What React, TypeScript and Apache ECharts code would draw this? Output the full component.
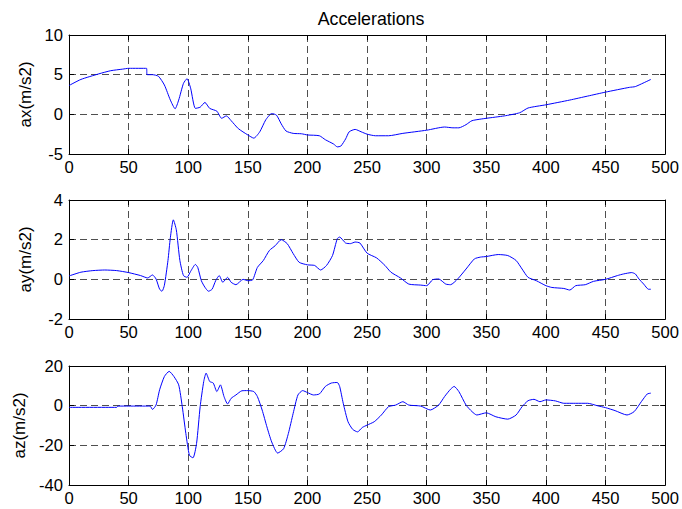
import React, { useEffect, useRef } from "react";
import * as echarts from "echarts";

const title = "Accelerations";
const xTicks = [0, 50, 100, 150, 200, 250, 300, 350, 400, 450, 500];

const axX = [0, 10, 25, 35, 45, 50, 65, 65.5, 70, 75, 80, 85, 89, 92, 96, 99, 102, 106, 110, 114, 118, 124, 128, 132, 136, 142, 150, 155, 160, 165, 170, 174, 178, 182, 188, 195, 200, 210, 215, 222, 225, 228, 232, 235, 240, 245, 250, 257, 268, 280, 300, 315, 322, 327, 333, 338, 350, 365, 378, 385, 400, 420, 435, 450, 470, 475, 488];
const axY = [3.63, 4.4, 5.1, 5.5, 5.7, 5.8, 5.8, 5.0, 5.0, 4.8, 3.7, 1.8, 0.7, 1.8, 3.9, 4.5, 3.3, 0.75, 0.9, 1.5, 0.75, 0.4, -0.5, -0.2, -0.8, -1.8, -2.6, -3.0, -2.2, -0.7, 0.1, -0.1, -1.2, -2.1, -2.4, -2.45, -2.6, -2.7, -3.2, -3.75, -4.1, -4.0, -3.1, -2.2, -1.9, -2.2, -2.5, -2.7, -2.7, -2.4, -2.0, -1.6, -1.7, -1.7, -1.3, -0.8, -0.5, -0.2, 0.2, 0.8, 1.2, 1.8, 2.3, 2.8, 3.4, 3.5, 4.4];

const ayX = [0, 10, 20, 30, 40, 50, 60, 66, 70, 73, 76, 78, 80, 83, 85, 87.5, 90, 93, 96, 99, 102, 106, 108, 111, 114, 117, 120, 123, 126, 129, 133, 136, 140, 146, 150, 154, 158, 163, 168, 173, 178, 183, 188, 193, 200, 206, 211, 216, 221, 225, 227, 232, 236, 240, 244, 250, 258, 265, 270, 278, 285, 295, 300, 305, 310, 316, 320, 326, 333, 340, 345, 350, 360, 368, 375, 380, 385, 392, 400, 405, 415, 420, 425, 433, 440, 450, 460, 465, 472, 475, 478, 482, 486, 488];
const ayY = [0.17, 0.36, 0.44, 0.47, 0.44, 0.34, 0.19, 0.07, 0.22, 0.02, -0.5, -0.6, -0.3, 0.95, 2.1, 3.0, 2.5, 0.95, 0.19, 0.1, 0.4, 0.75, 0.6, -0.07, -0.4, -0.6, -0.5, -0.07, 0.19, -0.15, 0.1, -0.15, -0.27, 0.0, -0.07, -0.03, 0.6, 0.95, 1.45, 1.7, 2.0, 1.8, 1.3, 0.86, 0.73, 0.7, 0.47, 0.7, 1.2, 2.05, 2.13, 1.83, 1.8, 1.88, 1.83, 1.32, 1.08, 0.7, 0.36, 0.07, -0.24, -0.29, -0.32, -0.02, 0.02, -0.24, -0.27, 0.02, 0.52, 1.03, 1.12, 1.15, 1.25, 1.2, 0.95, 0.52, 0.1, -0.07, -0.32, -0.41, -0.46, -0.54, -0.32, -0.27, -0.1, 0, 0.19, 0.27, 0.34, 0.27, 0.02, -0.24, -0.5, -0.5];

const azX = [0, 40, 41, 50, 68, 70, 73, 76, 80, 84, 88, 92, 95, 98, 101, 104, 107, 110, 113, 115, 118, 121, 124, 127, 130, 133, 136, 140, 145, 150, 155, 158, 162, 166, 170, 175, 180, 184, 188, 192, 196, 200, 205, 210, 215, 220, 225, 227, 230, 234, 238, 242, 246, 250, 256, 262, 268, 274, 280, 285, 295, 303, 310, 315, 320, 323, 327, 333, 338, 342, 350, 358, 368, 375, 380, 385, 390, 395, 400, 408, 415, 425, 435, 443, 450, 458, 468, 474, 480, 485, 488];
const azY = [-0.85, -0.85, -0.2, -0.2, -0.2, -1.9, 0.3, 8, 14.7, 17.3, 14.7, 10.5, -0.5, -14, -25, -26.3, -19, -0.5, 12.2, 16.4, 12.2, 11.4, 7.1, 10.5, 4.6, 0.85, 3.7, 5.4, 7.5, 7.6, 7.1, 4.6, -2.2, -10.7, -18.3, -23.9, -21.7, -14, -3.9, 5.4, 7.6, 6.6, 5.4, 5.9, 9.7, 11.4, 11.7, 9.7, 1.2, -8.1, -12, -13.2, -11, -9.8, -8.1, -4.7, -0.5, 0.3, 2, 0.3, -0.2, -2.2, 0.3, 4.6, 8.3, 9.7, 7.1, 0.3, -3, -4.7, -3.6, -5.6, -6.8, -4.7, -0.5, 2.5, 3.2, 2, 2.9, 2.4, 1.2, 1.2, 1.2, 0, -1, -2.5, -4.7, -3, 2, 5.9, 6.3];

const panels = [
  { name: "ax(m/s2)", xs: axX, ys: axY, min: -5, max: 10, interval: 5 },
  { name: "ay(m/s2)", xs: ayX, ys: ayY, min: -2, max: 4, interval: 2 },
  { name: "az(m/s2)", xs: azX, ys: azY, min: -40, max: 20, interval: 20 },
];

const FONT = "Liberation Sans, Arial, sans-serif";
const FS = 16.6;
const gridTops = [35, 200, 366];

export default function App() {
  const ref = useRef<HTMLDivElement>(null);
  useEffect(() => {
    if (!ref.current) return;
    const chart = echarts.init(ref.current, undefined, { renderer: "svg" });
    const dash = { type: [7, 4] as any, color: "#222", width: 0.8 };
    const grid: any[] = [];
    const xAxis: any[] = [];
    const yAxis: any[] = [];
    const series: any[] = [];
    panels.forEach((p, i) => {
      grid.push({ left: 69, right: 14, top: gridTops[i], height: 119, show: false });
      const xBase = {
        type: "value",
        gridIndex: i,
        min: 0,
        max: 500,
        interval: 50,
      };
      xAxis.push({
        ...xBase,
        position: "bottom",
        axisLine: { show: true, onZero: false, lineStyle: { color: "#000", width: 1 } },
        axisTick: { show: true, inside: true, length: 5, lineStyle: { color: "#000" } },
        axisLabel: { color: "#000", fontSize: FS, fontFamily: FONT, margin: 5 },
        splitLine: { show: true, lineStyle: dash },
      });
      xAxis.push({
        ...xBase,
        position: "top",
        axisLine: { show: true, onZero: false, lineStyle: { color: "#000", width: 1 } },
        axisTick: { show: true, inside: true, length: 5, lineStyle: { color: "#000" } },
        axisLabel: { show: false },
        splitLine: { show: false },
      });
      const yBase = {
        type: "value",
        gridIndex: i,
        min: p.min,
        max: p.max,
        interval: p.interval,
      };
      yAxis.push({
        ...yBase,
        position: "left",
        name: p.name,
        nameLocation: "middle",
        nameGap: 35,
        nameTextStyle: { color: "#000", fontSize: 17, fontFamily: FONT },
        axisLine: { show: true, onZero: false, lineStyle: { color: "#000", width: 1 } },
        axisTick: { show: true, inside: true, length: 5, lineStyle: { color: "#000" } },
        axisLabel: { color: "#000", fontSize: FS, fontFamily: FONT, margin: 6 },
        splitLine: { show: true, lineStyle: dash },
      });
      yAxis.push({
        ...yBase,
        position: "right",
        axisLine: { show: true, onZero: false, lineStyle: { color: "#000", width: 1 } },
        axisTick: { show: true, inside: true, length: 5, lineStyle: { color: "#000" } },
        axisLabel: { show: false },
        splitLine: { show: false },
      });
      series.push({
        type: "line",
        xAxisIndex: i * 2,
        yAxisIndex: i * 2,
        data: p.xs.map((x, k) => [x, p.ys[k]]),
        showSymbol: false,
        symbol: "none",
        lineStyle: { color: "#0000ff", width: 1 },
        smooth: 0.2,
      });
    });
    chart.setOption({
      animation: false,
      backgroundColor: "#fff",
      title: {
        text: title,
        left: 366,
        top: 5,
        textAlign: "center",
        textStyle: { color: "#000", fontSize: 17.8, fontWeight: "normal", fontFamily: FONT },
      },
      grid,
      xAxis,
      yAxis,
      series,
    });
    return () => chart.dispose();
  }, []);
  return (
    <div
      ref={ref}
      style={{ position: "fixed", left: 0, top: 0, width: 682, height: 509, background: "#fff" }}
    />
  );
}
